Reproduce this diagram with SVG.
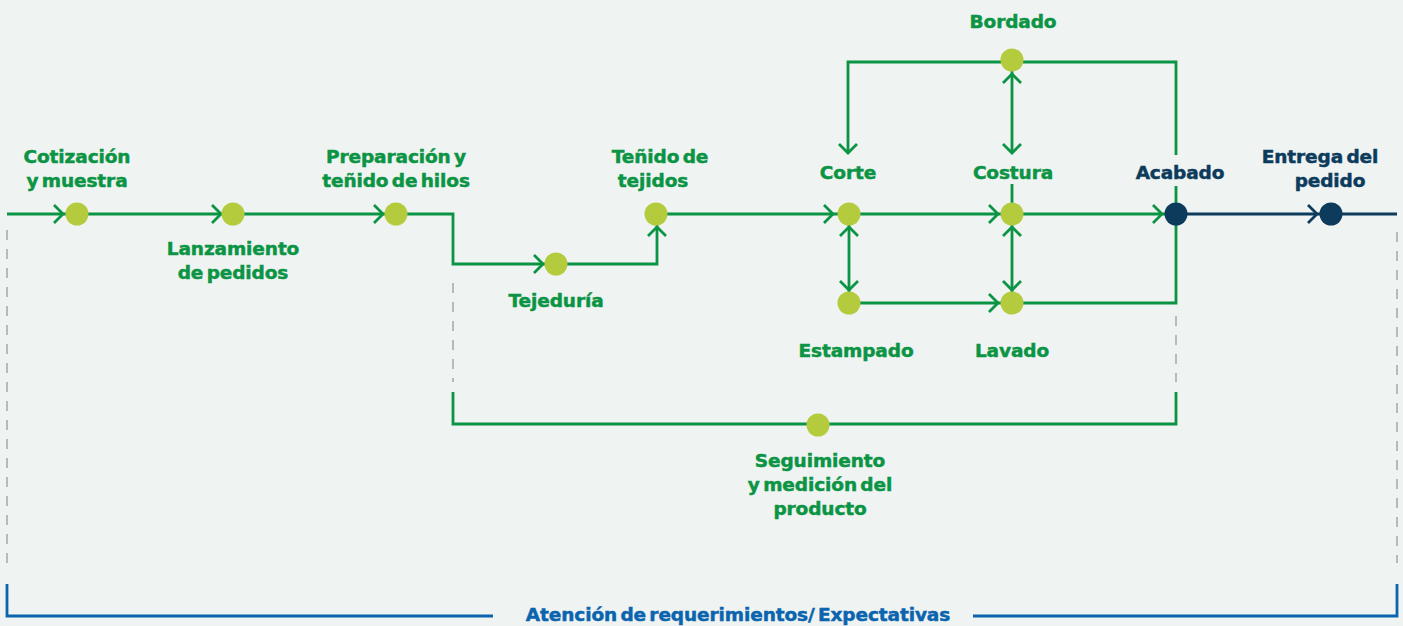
<svg xmlns="http://www.w3.org/2000/svg" xmlns:xlink="http://www.w3.org/1999/xlink" width="1403" height="626" viewBox="0 0 1403 626">
<style>
.bg{fill:#eff3f2}
.ln{fill:none;stroke:#0b9444;stroke-width:2.8}
.nv{fill:none;stroke:#0c3b5c;stroke-width:2.8}
.bl{fill:none;stroke:#0b64ae;stroke-width:2.8}
.dash{fill:none;stroke:#a9acab;stroke-width:1.6;stroke-dasharray:10 9}
.n{fill:#b4cb3d}
.nd{fill:#0c3b5c}
text{font-family:"DejaVu Sans","Liberation Sans",sans-serif;font-weight:700;font-size:18.5px;letter-spacing:-0.1px;word-spacing:-3px;text-anchor:middle;stroke-width:0.5px}
.g{fill:#0b9444;stroke:#0b9444}
.t{fill:#0c3b5c;stroke:#0c3b5c}
.b{fill:#0b64ae;stroke:#0b64ae}
</style>
<defs>
<path id="cr" d="M-9,-9 L0,0 L-9,9"/>
</defs>
<rect class="bg" x="0" y="0" width="1403" height="626"/>
<g id="guides">
<path class="dash" d="M7,230 V563 M453,283 V382 M1176,316 V382 M1397,232 V563"/>
<path class="bl" d="M493,616 H7 V584 M973,616 H1397 V584"/>
</g>
<g id="connectors">
<path class="ln" d="M7,214 H453 V264 H657 V214 H1176"/>
<path class="nv" d="M1176,214 H1397"/>
<path class="ln" d="M848,153 V62 H1176 V155"/>
<path class="ln" d="M1012,62 V153 M1012,184 V214 M1176,186 V303 H1012 M849,214 V303 M1012,214 V303 M849,303 H1012 M453,392 V424 H1176 V392"/>
<g class="ln">
<use xlink:href="#cr" transform="translate(63,214)"/>
<use xlink:href="#cr" transform="translate(221,214)"/>
<use xlink:href="#cr" transform="translate(383,214)"/>
<use xlink:href="#cr" transform="translate(543,264)"/>
<use xlink:href="#cr" transform="translate(657,227) rotate(-90)"/>
<use xlink:href="#cr" transform="translate(833,214)"/>
<use xlink:href="#cr" transform="translate(998,214)"/>
<use xlink:href="#cr" transform="translate(1162,214)"/>
<use xlink:href="#cr" transform="translate(998,303)"/>
<use xlink:href="#cr" transform="translate(849,227) rotate(-90)"/>
<use xlink:href="#cr" transform="translate(849,290) rotate(90)"/>
<use xlink:href="#cr" transform="translate(1012,227) rotate(-90)"/>
<use xlink:href="#cr" transform="translate(1012,290) rotate(90)"/>
<use xlink:href="#cr" transform="translate(848,153) rotate(90)"/>
<use xlink:href="#cr" transform="translate(1012,74) rotate(-90)"/>
<use xlink:href="#cr" transform="translate(1012,153) rotate(90)"/>
</g>
<use class="nv" xlink:href="#cr" transform="translate(1317,214)"/>
</g>
<g id="cotizacion"><circle class="n" cx="77" cy="214" r="11.5"/><text class="g" x="77" y="163">Cotización</text><text class="g" x="77" y="187">y muestra</text></g>
<g id="lanzamiento"><circle class="n" cx="233" cy="214" r="11.5"/><text class="g" x="233" y="255">Lanzamiento</text><text class="g" x="233" y="279">de pedidos</text></g>
<g id="preparacion"><circle class="n" cx="396" cy="214" r="11.5"/><text class="g" x="396" y="163">Preparación y</text><text class="g" x="396" y="187">teñido de hilos</text></g>
<g id="tejeduria"><circle class="n" cx="556" cy="264" r="11.5"/><text class="g" x="556" y="307">Tejeduría</text></g>
<g id="tenido"><circle class="n" cx="656" cy="214" r="11.5"/><text class="g" x="660" y="163">Teñido de</text><text class="g" x="653" y="187">tejidos</text></g>
<g id="corte"><circle class="n" cx="849" cy="214" r="11.5"/><text class="g" x="848" y="179">Corte</text></g>
<g id="costura"><circle class="n" cx="1012" cy="214" r="11.5"/><text class="g" x="1013" y="179">Costura</text></g>
<g id="bordado"><circle class="n" cx="1012" cy="60" r="11.5"/><text class="g" x="1013" y="28">Bordado</text></g>
<g id="estampado"><circle class="n" cx="849" cy="303" r="11.5"/><text class="g" x="856" y="357">Estampado</text></g>
<g id="lavado"><circle class="n" cx="1012" cy="303" r="11.5"/><text class="g" x="1012" y="357">Lavado</text></g>
<g id="acabado"><circle class="nd" cx="1176" cy="214" r="11.5"/><text class="t" x="1180" y="179">Acabado</text></g>
<g id="entrega"><circle class="nd" cx="1331" cy="214" r="11.5"/><text class="t" x="1320" y="163">Entrega del</text><text class="t" x="1330" y="187">pedido</text></g>
<g id="seguimiento"><circle class="n" cx="818" cy="425" r="11.5"/><text class="g" x="820" y="467">Seguimiento</text><text class="g" x="820" y="491">y medición del</text><text class="g" x="820" y="515">producto</text></g>
<g id="atencion"><text class="b" x="738" y="621">Atención de requerimientos/ Expectativas</text></g>
</svg>
